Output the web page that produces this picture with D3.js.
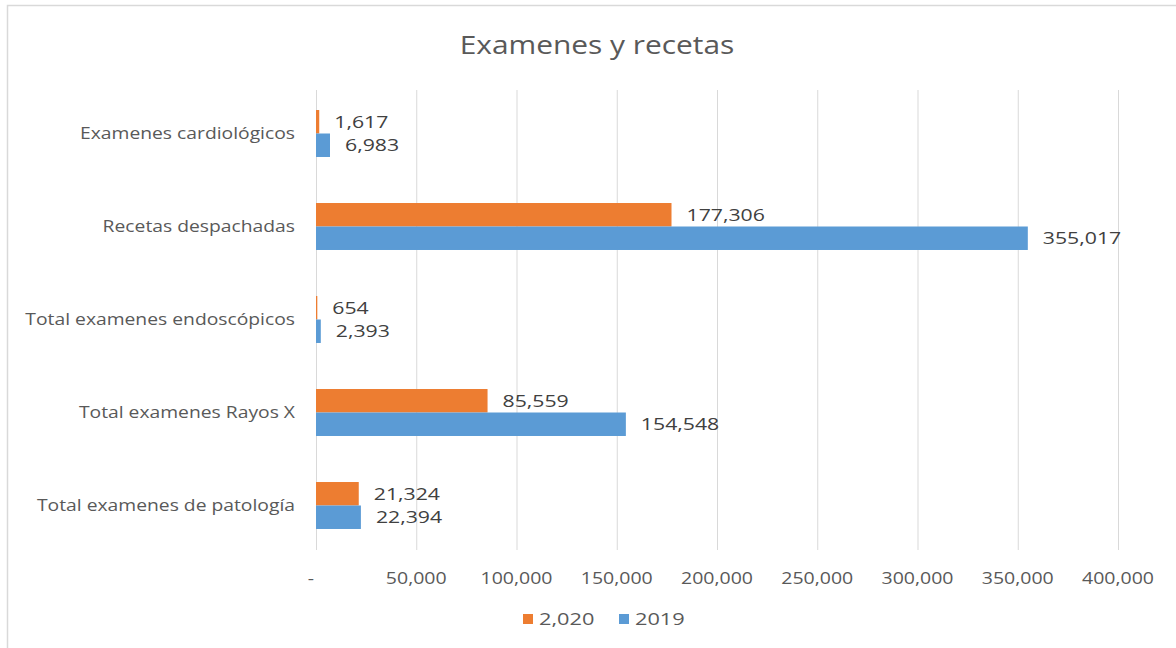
<!DOCTYPE html>
<html><head><meta charset="utf-8">
<script src="https://cdn.jsdelivr.net/npm/d3@7"></script>
<style>
body{margin:0;background:#fff;}
text{font-family:"Open Sans",sans-serif;}
</style></head>
<body>
<svg id="c" width="1176" height="648"></svg>
<script>
const categories = ["Examenes cardiológicos","Recetas despachadas","Total examenes endoscópicos","Total examenes Rayos X","Total examenes de patología"];
const seriesNames = ["2,020","2019"];
const values2020 = [1617, 177306, 654, 85559, 21324];
const values2019 = [6983, 355017, 2393, 154548, 22394];
const tickValues = [0,50000,100000,150000,200000,250000,300000,350000,400000];
const tickLabels = ["-","50,000","100,000","150,000","200,000","250,000","300,000","350,000","400,000"];
const colors = ["#ED7D31","#5B9BD5"];

const svg = d3.select("#c");
svg.append("rect").attr("x",7.5).attr("y",5.5).attr("width",1200).attr("height",700)
  .attr("fill","#fff").attr("stroke","#d9d9d9").attr("stroke-width",1.5);

const x = d3.scaleLinear().domain([0,400000]).range([316,1118]);
const y = d3.scaleBand().domain(categories).range([87,552]).padding(0);
const sub = d3.scaleBand().domain(seriesNames).range([0,y.bandwidth()]).paddingOuter(0.98).paddingInner(0);

const tr = (px,py,sx)=>`translate(${px},${py}) scale(${sx},1)`;

// title
svg.append("text").attr("transform",tr(597,54,1.15)).attr("text-anchor","middle")
  .attr("font-size",26).attr("fill","#595959").text("Examenes y recetas");

// gridlines
svg.append("g").selectAll("line").data(tickValues).join("line")
  .attr("x1",d=>x(d)+0.5).attr("x2",d=>x(d)+0.5).attr("y1",90).attr("y2",550)
  .attr("stroke","#d9d9d9").attr("stroke-width",1);

// x tick labels
svg.append("g").selectAll("text").data(tickValues).join("text")
  .attr("transform",(d,i)=>tr(i===0? x(d)-5 : x(d), 584, 1.22)).attr("text-anchor","middle")
  .attr("font-size",16).attr("fill","#595959").text((d,i)=>tickLabels[i]);

// category labels
svg.append("g").selectAll("text").data(categories).join("text")
  .attr("transform",d=>tr(295, y(d)+y.bandwidth()/2, 1.17)).attr("dy","0.35em")
  .attr("text-anchor","end").attr("font-size",16.5).attr("fill","#595959").text(d=>d);

const rows = [];
categories.forEach((c,i)=>{
  rows.push({cat:c, s:seriesNames[0], v:values2020[i], col:colors[0]});
  rows.push({cat:c, s:seriesNames[1], v:values2019[i], col:colors[1]});
});

svg.append("g").selectAll("rect").data(rows).join("rect")
  .attr("x",x(0)).attr("y",d=>y(d.cat)+sub(d.s))
  .attr("width",d=>Math.max(1,x(d.v)-x(0))).attr("height",sub.bandwidth())
  .attr("fill",d=>d.col);

svg.append("g").selectAll("text").data(rows).join("text")
  .attr("transform",d=>tr(x(d.v)+15, y(d.cat)+sub(d.s)+sub.bandwidth()/2, 1.25)).attr("dy","0.35em")
  .attr("font-size",17).attr("fill","#404040").text(d=>d3.format(",")(d.v));

// legend
const lg = svg.append("g");
const legX = [523, 619];
seriesNames.forEach((s,i)=>{
  lg.append("rect").attr("x",legX[i]).attr("y",614).attr("width",10).attr("height",10).attr("fill",colors[i]);
  lg.append("text").attr("transform",tr(legX[i]+16,619,1.28)).attr("dy","0.35em")
    .attr("font-size",17).attr("fill","#595959").text(s);
});
</script>
</body></html>
